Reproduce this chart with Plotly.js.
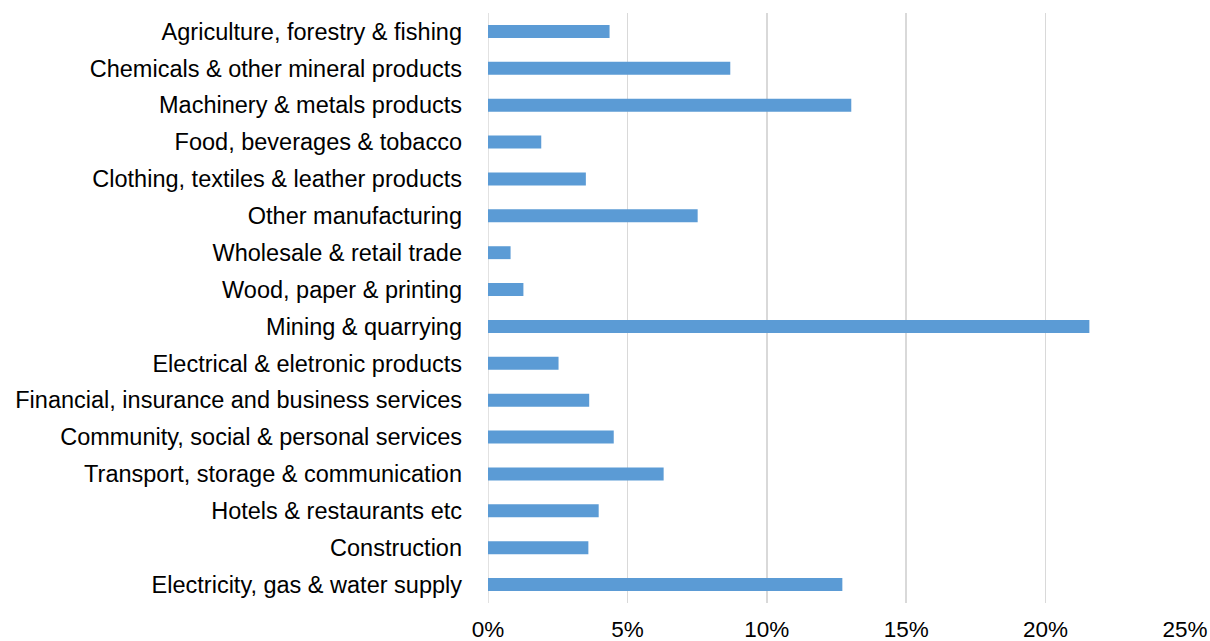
<!DOCTYPE html>
<html>
<head>
<meta charset="utf-8">
<script src="https://cdn.plot.ly/plotly-3.0.1.min.js"></script>
<style>html,body{margin:0;padding:0;background:#fff;}#chart{width:1210px;height:641px;}</style>
</head>
<body>
<div id="chart"></div>
<script>
const categories = [
  "Agriculture, forestry & fishing",
  "Chemicals & other mineral products",
  "Machinery & metals products",
  "Food, beverages & tobacco",
  "Clothing, textiles & leather products",
  "Other manufacturing",
  "Wholesale & retail trade",
  "Wood, paper & printing",
  "Mining & quarrying",
  "Electrical & eletronic products",
  "Financial, insurance and business services",
  "Community, social & personal services",
  "Transport, storage & communication",
  "Hotels & restaurants etc",
  "Construction",
  "Electricity, gas & water supply"
];
const values = [4.36, 8.69, 13.03, 1.91, 3.51, 7.52, 0.81, 1.27, 21.57, 2.53, 3.63, 4.51, 6.30, 3.97, 3.60, 12.71];
const tickVals = [0, 5, 10, 15, 20, 25];
const tickText = ["0%", "5%", "10%", "15%", "20%", "25%"];

const trace = {
  type: "bar",
  orientation: "h",
  y: categories,
  x: values,
  marker: {color: "#5b9bd5"},
  hoverinfo: "x+y"
};
const layout = {
  width: 1210, height: 641,
  margin: {l: 488, r: 25, t: 12.5, b: 37.5, pad: 0},
  paper_bgcolor: "#fff", plot_bgcolor: "#fff",
  bargap: 0.65,
  showlegend: false,
  font: {family: "Liberation Sans, Arial, sans-serif", size: 23.5, color: "#000"},
  xaxis: {
    range: [0, 25], tickvals: tickVals, ticktext: tickText,
    tickfont: {size: 22.5},
    showgrid: true, gridcolor: "#d9d9d9", gridwidth: 1.5,
    zeroline: false, showline: false, ticks: "",
    ticklabelstandoff: 10, fixedrange: true
  },
  yaxis: {
    type: "category", autorange: "reversed",
    tickfont: {size: 23.5},
    showgrid: false, zeroline: false, showline: false, ticks: "",
    ticklabelstandoff: 25, fixedrange: true
  },
  shapes: [{type: "line", xref: "x", yref: "paper", x0: 0, x1: 0, y0: 0, y1: 1, line: {color: "#d9d9d9", width: 1.5}, layer: "below"}]
};
Plotly.newPlot("chart", [trace], layout, {displayModeBar: false, staticPlot: true});
</script>
</body>
</html>
